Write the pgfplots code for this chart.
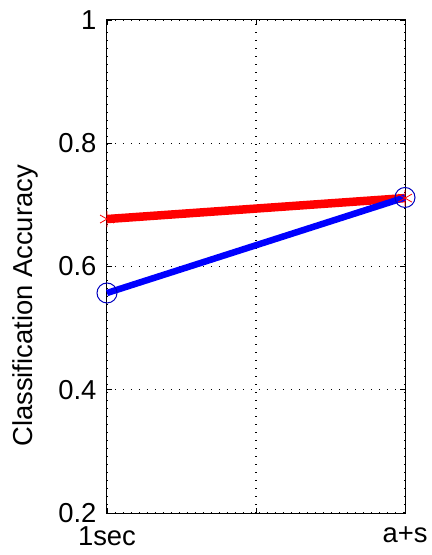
\documentclass[border=0pt]{standalone}
\usepackage{fontspec}
\setmainfont{Liberation Sans}
\usepackage{pgfplots}
\pgfplotsset{compat=1.18}
\begin{document}
\begin{tikzpicture}
\begin{axis}[
  scale only axis,
  width=298bp, height=493bp,
  xmin=0, xmax=2, ymin=0.2, ymax=1,
  xtick={0,1,2}, xticklabels={1sec,,a+s},
  ytick={0.2,0.4,0.6,0.8,1},
  yticklabels={0.2,0.4,0.6,0.8,1},
  grid=major,
  major grid style={black, line width=1.4bp, dash pattern=on 1.4bp off 6.6bp},
  tick align=inside,
  major tick length=5bp,
  tick style={black, line width=0.8pt},
  axis line style={black, line width=1pt},
  ylabel={Classification Accuracy},
  ylabel style={at={(rel axis cs:0,0.42)}, anchor=center, yshift=82bp},
  font=\fontsize{27.5}{32}\selectfont,
  xticklabel style={yshift=-10bp},
  yticklabel style={xshift=-7bp},
  clip=false,
]
% red series
\addplot[red, line width=8.5bp, mark=asterisk, mark size=8bp,
  mark options={line width=0.8pt, solid}]
  coordinates {(0,0.677) (2,0.711)};
% blue series
\addplot[blue, line width=6.5bp, mark=o, mark size=10bp,
  mark options={line width=1pt, solid, draw=blue!75!black, fill=none}]
  coordinates {(0,0.557) (2,0.712)};
\end{axis}
\path[use as bounding box] (-107bp,-42bp) rectangle (325bp,513bp);
\end{tikzpicture}
\end{document}
